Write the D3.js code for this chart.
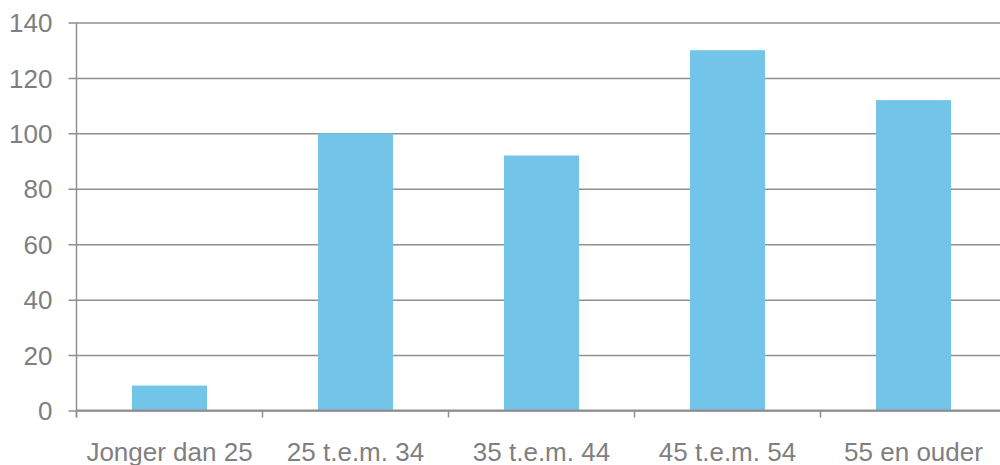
<!DOCTYPE html>
<html>
<head>
<meta charset="utf-8">
<script src="https://cdn.jsdelivr.net/npm/d3@7"></script>
<style>
  html, body { margin: 0; padding: 0; background: #fff; }
  svg { display: block; }
  text { font-family: "Liberation Sans", Arial, Helvetica, sans-serif; fill: #7f7f7f; }
</style>
</head>
<body>
<svg id="chart" width="1000" height="465"></svg>
<script>
// Age groups and counts
const categories = ["Jonger dan 25", "25 t.e.m. 34", "35 t.e.m. 44", "45 t.e.m. 54", "55 en ouder"];
const values = [9, 100, 92, 130, 112];
const yTicks = [0, 20, 40, 60, 80, 100, 120, 140];

const svg = d3.select("#chart");
const plotLeft = 76.5, plotRight = 1006.5, plotTop = 22.5, plotBottom = 410.5;
const fontSize = 26;

const x = d3.scaleBand()
  .domain(categories)
  .range([plotLeft, plotRight])
  .paddingInner(0.597)
  .paddingOuter(0.2985);

const y = d3.scaleLinear().domain([0, 140]).range([plotBottom, plotTop]);

const gridColor = "#8f8f8f";

// Horizontal gridlines with small ticks left of the axis
const yAxis = d3.axisLeft(y).tickValues(yTicks).tickSize(-(1000 - plotLeft)).tickSizeOuter(0);
const gy = svg.append("g").attr("transform", `translate(${plotLeft},0)`).call(yAxis);
gy.select(".domain").remove();
gy.selectAll(".tick line").attr("stroke", gridColor).attr("stroke-width", 1.5).attr("x1", -8);
gy.selectAll(".tick text")
  .attr("font-size", fontSize)
  .attr("fill", "#7f7f7f")
  .attr("x", -24)
  .attr("dy", "0.35em");

// Bars
svg.append("g").selectAll("rect")
  .data(values)
  .join("rect")
  .attr("x", (d, i) => x(categories[i]))
  .attr("width", x.bandwidth())
  .attr("y", d => y(d))
  .attr("height", d => y(0) - y(d))
  .attr("fill", "#72c5e8");

// Vertical axis line
svg.append("line")
  .attr("x1", plotLeft).attr("x2", plotLeft)
  .attr("y1", plotTop).attr("y2", plotBottom + 7)
  .attr("stroke", gridColor).attr("stroke-width", 1.5);

// Baseline and category boundary ticks
svg.append("line")
  .attr("x1", plotLeft).attr("x2", 1000)
  .attr("y1", plotBottom).attr("y2", plotBottom)
  .attr("stroke", gridColor).attr("stroke-width", 2);

const step = x.step();
svg.append("g").selectAll("line")
  .data(d3.range(categories.length + 1))
  .join("line")
  .attr("x1", i => plotLeft + i * step)
  .attr("x2", i => plotLeft + i * step)
  .attr("y1", plotBottom).attr("y2", plotBottom + 7)
  .attr("stroke", gridColor).attr("stroke-width", 1.5);

// Category labels
svg.append("g").selectAll("text")
  .data(categories)
  .join("text")
  .attr("x", d => x(d) + x.bandwidth() / 2)
  .attr("y", 461)
  .attr("text-anchor", "middle")
  .attr("font-size", fontSize)
  .text(d => d);
</script>
</body>
</html>
